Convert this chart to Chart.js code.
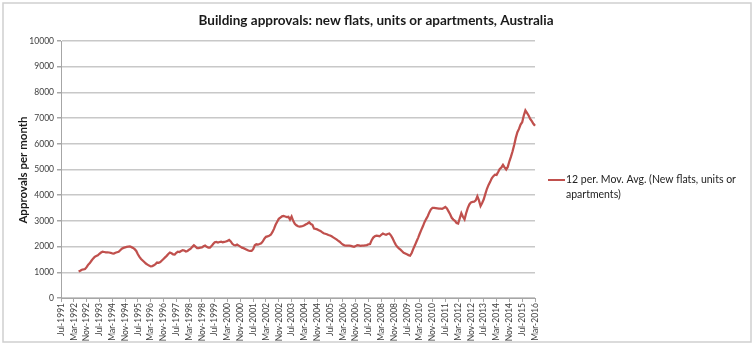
<!DOCTYPE html>
<html lang="en">
<head>
    <meta charset="UTF-8">
    <title>Building approvals: new flats, units or apartments, Australia</title>
    <script src="https://cdn.jsdelivr.net/npm/chart.js"></script>
    <style>
        body { margin: 0; background: #fff; }
        canvas { display: block; }
    </style>
</head>
<body>
    <canvas id="approvalsChart" width="754" height="347"></canvas>
    <script>
        const chartTitle = 'Building approvals: new flats, units or apartments, Australia';
        const yTitle = 'Approvals per month';
        const seriesName = ['12 per. Mov. Avg. (New flats, units or', 'apartments)'];
        const monthNames = ['Jan', 'Feb', 'Mar', 'Apr', 'May', 'Jun', 'Jul', 'Aug', 'Sep', 'Oct', 'Nov', 'Dec'];
        const firstYear = 1991, firstMonth = 6, monthCount = 297; // Jul-1991 .. Mar-2016
        const yTicks = [0, 1000, 2000, 3000, 4000, 5000, 6000, 7000, 8000, 9000, 10000];

        // 12 month moving average (first 11 months empty)
        const movAvg = [
            null, null, null, null, null, null, null, null, null, null, null,
            1030, 1060, 1100, 1110, 1130, 1200, 1300, 1360, 1450, 1530,
            1600, 1630, 1660, 1720, 1770, 1800, 1790, 1780, 1780, 1770,
            1760, 1740, 1730, 1760, 1780, 1800, 1860, 1920, 1950, 1970,
            1990, 2000, 2010, 1980, 1950, 1900, 1830, 1700, 1600, 1520,
            1460, 1400, 1340, 1300, 1260, 1230, 1240, 1270, 1320, 1380,
            1370, 1400, 1460, 1520, 1580, 1640, 1710, 1770, 1740, 1700,
            1690, 1760, 1800, 1790, 1830, 1860, 1850, 1810, 1830, 1880,
            1920, 1990, 2050, 2000, 1940, 1940, 1960, 1970, 2010, 2040,
            1990, 1960, 1960, 2020, 2100, 2170, 2180, 2160, 2180, 2190,
            2170, 2180, 2200, 2220, 2260, 2200, 2110, 2060, 2050, 2080,
            2040, 2000, 1960, 1940, 1910, 1880, 1850, 1830, 1830, 1900,
            2050, 2090, 2080, 2100, 2130, 2200, 2310, 2380, 2400, 2420,
            2460, 2560, 2690, 2850, 2970, 3080, 3130, 3180, 3190, 3170,
            3150, 3160, 3050, 3170, 3000, 2890, 2830, 2790, 2780, 2790,
            2800, 2830, 2870, 2900, 2950, 2880, 2850, 2700, 2690, 2670,
            2640, 2610, 2560, 2520, 2500, 2480, 2450, 2430, 2400, 2360,
            2320, 2280, 2230, 2190, 2130, 2080, 2050, 2040, 2040, 2040,
            2030, 2010, 1990, 2020, 2060, 2050, 2030, 2040, 2040, 2050,
            2060, 2090, 2100, 2250, 2350, 2400, 2430, 2420, 2400, 2460,
            2510, 2480, 2460, 2490, 2510, 2440, 2330, 2200, 2080, 1990,
            1930, 1880, 1820, 1760, 1730, 1700, 1670, 1650, 1750, 1910,
            2050, 2200, 2340, 2500, 2650, 2790, 2950, 3070, 3180, 3330,
            3450, 3510, 3510, 3500, 3490, 3480, 3480, 3470, 3500, 3540,
            3480, 3370, 3260, 3120, 3050, 3000, 2920, 2900, 3100, 3300,
            3160, 3060, 3300, 3500, 3640, 3720, 3740, 3750, 3800, 3960,
            3800, 3580, 3700, 3840, 4050, 4250, 4400, 4520, 4660, 4740,
            4800, 4790, 4900, 5020, 5080, 5180, 5080, 5000, 5100, 5320,
            5500, 5710, 5950, 6230, 6450, 6580, 6750, 6840, 7100, 7300,
            7200, 7100, 6970, 6880, 6780, 6700
        ];

        const months = [];
        for (let i = 0; i < monthCount; i++) {
            const m = (firstMonth + i) % 12;
            const y = firstYear + Math.floor((firstMonth + i) / 12);
            months.push(monthNames[m] + '-' + y);
        }

        const FONT = 'Lato, "Open Sans", sans-serif';
        const lineColor = '#c0504d';

        // frame, title, axis title and the two-line legend
        const decorations = {
            id: 'decorations',
            beforeDraw(chart) {
                const c = chart.ctx;
                c.save();
                c.fillStyle = '#fff';
                c.fillRect(0, 0, chart.width, chart.height);
                c.restore();
            },
            afterDraw(chart) {
                const c = chart.ctx;
                c.save();
                c.strokeStyle = '#cfcfcf';
                c.lineWidth = 1.5;
                c.strokeRect(3, 3, 748, 339);

                c.fillStyle = '#1a1a1a';
                c.font = 'bold 13.5px ' + FONT;
                c.textAlign = 'center';
                c.textBaseline = 'middle';
                c.fillText(chartTitle, 376, 21);

                c.save();
                c.translate(23, 170);
                c.rotate(-Math.PI / 2);
                c.font = 'bold 11.5px ' + FONT;
                c.fillText(yTitle, 0, 0);
                c.restore();

                c.strokeStyle = lineColor;
                c.lineWidth = 2;
                c.beginPath();
                c.moveTo(548, 180);
                c.lineTo(565, 180);
                c.stroke();
                c.font = '10.5px ' + FONT;
                c.textAlign = 'left';
                c.fillStyle = '#222';
                c.fillText(seriesName[0], 566, 180);
                c.fillText(seriesName[1], 566, 195);
                c.restore();
            }
        };

        new Chart(document.getElementById('approvalsChart'), {
            type: 'line',
            data: {
                labels: months,
                datasets: [{
                    label: seriesName.join(' '),
                    data: movAvg,
                    borderColor: lineColor,
                    borderWidth: 2.25,
                    pointRadius: 0,
                    tension: 0,
                    spanGaps: false
                }]
            },
            options: {
                responsive: false,
                animation: false,
                layout: { padding: { left: 0, top: 41, right: 219, bottom: 0 } },
                plugins: {
                    legend: { display: false },
                    title: { display: false },
                    tooltip: { enabled: false }
                },
                scales: {
                    x: {
                        offset: false,
                        afterFit: s => { s.height = 49; },
                        grid: {
                            drawOnChartArea: false,
                            tickLength: 4,
                            color: ctx => (ctx.index % 8 === 0 ? '#a6a6a6' : 'rgba(0,0,0,0)')
                        },
                        border: { color: '#a6a6a6', width: 1 },
                        ticks: {
                            autoSkip: false,
                            minRotation: 90,
                            maxRotation: 90,
                            padding: 1,
                            color: '#404040',
                            font: { family: FONT, size: 8.5 },
                            callback: (v, i) => (i % 8 === 0 ? months[i] : '')
                        }
                    },
                    y: {
                        min: 0,
                        max: 10000,
                        afterFit: s => { s.width = 61; },
                        afterBuildTicks: s => { s.ticks = yTicks.map(v => ({ value: v })); },
                        grid: {
                            color: '#c8c8c8',
                            lineWidth: 1.5,
                            tickLength: 4,
                            tickColor: '#a6a6a6'
                        },
                        border: { color: '#a6a6a6', width: 1 },
                        ticks: {
                            padding: 3,
                            color: '#404040',
                            font: { family: FONT, size: 8.5 },
                            callback: v => String(v)
                        }
                    }
                }
            },
            plugins: [decorations]
        });
    </script>
</body>
</html>
